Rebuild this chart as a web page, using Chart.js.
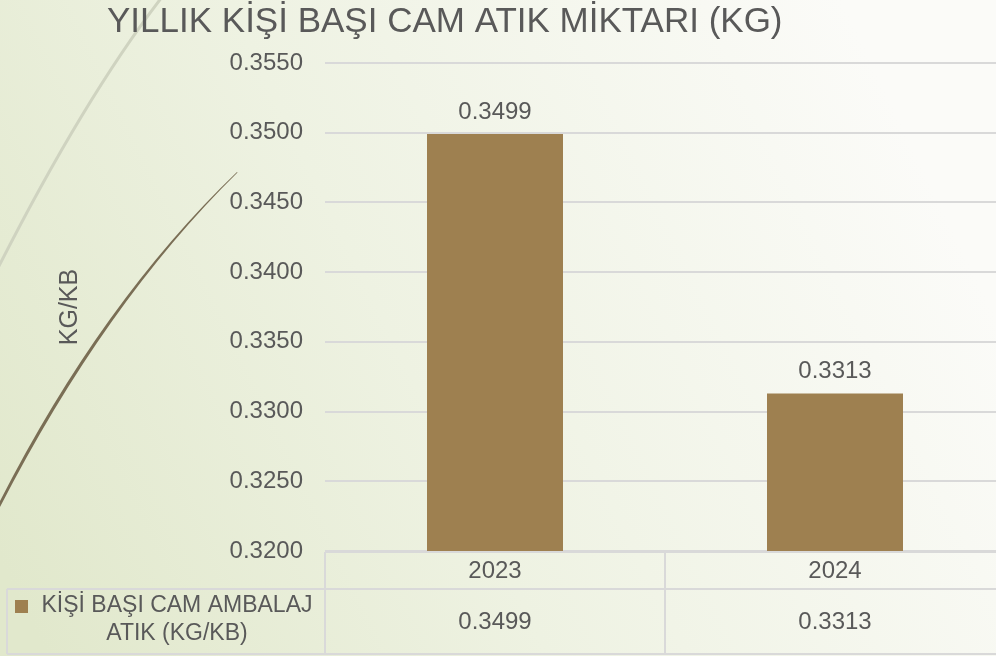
<!DOCTYPE html>
<html>
<head>
<meta charset="utf-8">
<script src="https://cdn.jsdelivr.net/npm/chart.js@4.4.0/dist/chart.umd.min.js"></script>
<style>
html,body{margin:0;padding:0;overflow:hidden;width:996px;height:656px;background:#f2f4ea}
#wrap{position:absolute;left:0;top:0;width:1005px;height:656px}
canvas{display:block}
</style>
</head>
<body>
<div id="wrap"><canvas id="c" width="1005" height="656"></canvas></div>
<script>
// ---- data ----
const chartTitle = 'YILLIK KİŞİ BAŞI CAM ATIK MİKTARI (KG)';
const yAxisTitle = 'KG/KB';
const categories = ['2023', '2024'];
const seriesName = 'KİŞİ BAŞI CAM AMBALAJ ATIK (KG/KB)';
const seriesValues = [0.3499, 0.3313];
const yTicks = [0.3200, 0.3250, 0.3300, 0.3350, 0.3400, 0.3450, 0.3500, 0.3550];

// ---- styles ----
const FONT = "'Liberation Sans', Arial, sans-serif";
const TEXT = '#595959';
const BAR = '#9e8050';
const LINE = '#d9d9d9';

const backgroundPlugin = {
  id: 'slideBackground',
  beforeDraw(chart) {
    const ctx = chart.ctx;
    ctx.save();
    const g = ctx.createLinearGradient(0, 560, 900, 120);
    g.addColorStop(0, '#e1e8cc');
    g.addColorStop(0.45, '#eef2e2');
    g.addColorStop(1, '#fbfbf8');
    ctx.fillStyle = g;
    ctx.fillRect(0, 0, chart.width, chart.height);
    // decorative light curve
    ctx.strokeStyle = '#cfd3c0';
    ctx.lineWidth = 3;
    ctx.beginPath();
    ctx.moveTo(162, -3);
    ctx.quadraticCurveTo(84, 98.5, -2, 268);
    ctx.stroke();
    // decorative dark curve
    ctx.fillStyle = '#7a6e55';
    ctx.beginPath();
    ctx.moveTo(237, 172);
    ctx.quadraticCurveTo(101.5, 301.5, -1, 503);
    ctx.lineTo(-1, 509);
    ctx.quadraticCurveTo(104.5, 303.5, 237.5, 172.5);
    ctx.closePath();
    ctx.fill();
    ctx.restore();
  }
};

const valueLabelPlugin = {
  id: 'valueLabels',
  afterDatasetsDraw(chart) {
    const ctx = chart.ctx;
    const meta = chart.getDatasetMeta(0);
    const vals = chart.data.datasets[0].data;
    ctx.save();
    ctx.font = '24px ' + FONT;
    ctx.fillStyle = TEXT;
    ctx.textAlign = 'center';
    ctx.textBaseline = 'alphabetic';
    meta.data.forEach((bar, i) => {
      ctx.fillText(vals[i].toFixed(4), bar.x, bar.y - 15);
    });
    ctx.restore();
  }
};

const dataTablePlugin = {
  id: 'dataTable',
  afterDraw(chart) {
    const ctx = chart.ctx;
    const xs = chart.scales.x;
    const ds = chart.data.datasets[0];
    const labels = chart.data.labels;
    const left = xs.left, right = xs.right;
    const colW = (right - left) / labels.length;
    const top = chart.chartArea.bottom + 1;
    const mid = top + 37;
    const bottom = mid + 65;
    const legLeft = 7;
    ctx.save();
    ctx.strokeStyle = LINE;
    ctx.lineWidth = 2;
    ctx.beginPath();
    ctx.moveTo(left, top); ctx.lineTo(right, top);
    ctx.moveTo(legLeft, mid); ctx.lineTo(right, mid);
    ctx.moveTo(legLeft, bottom); ctx.lineTo(right, bottom);
    ctx.moveTo(legLeft, mid); ctx.lineTo(legLeft, bottom);
    for (let i = 0; i <= labels.length; i++) {
      const x = left + colW * i;
      ctx.moveTo(x, top); ctx.lineTo(x, bottom);
    }
    ctx.stroke();

    ctx.font = '24px ' + FONT;
    ctx.fillStyle = TEXT;
    ctx.textAlign = 'center';
    ctx.textBaseline = 'middle';
    labels.forEach((lab, i) => {
      const cx = xs.getPixelForValue(i);
      ctx.fillText(lab, cx, (top + mid) / 2 + 1);
      ctx.fillText(ds.data[i].toFixed(4), cx, (mid + bottom) / 2 + 1);
    });

    // legend cell
    ctx.fillStyle = ds.backgroundColor;
    ctx.fillRect(15, 600, 13, 13);
    ctx.font = '23px ' + FONT;
    ctx.fillStyle = TEXT;
    const words = ds.label.split(' ');
    const lines = [];
    let cur = '';
    words.forEach(w => {
      const t = cur ? cur + ' ' + w : w;
      if (ctx.measureText(t).width > 285 && cur) { lines.push(cur); cur = w; }
      else cur = t;
    });
    if (cur) lines.push(cur);
    lines.forEach((ln, i) => ctx.fillText(ln, 177, 606 + i * 28));
    ctx.restore();
  }
};

new Chart(document.getElementById('c'), {
  type: 'bar',
  data: {
    labels: categories,
    datasets: [{
      label: seriesName,
      data: seriesValues,
      backgroundColor: BAR,
      borderWidth: 0,
      barPercentage: 0.5,
      categoryPercentage: 0.8
    }]
  },
  options: {
    responsive: false,
    animation: false,
    devicePixelRatio: 1,
    layout: { padding: { left: 107, right: 0, top: 0, bottom: 105 } },
    plugins: {
      legend: { display: false },
      tooltip: { enabled: false },
      title: {
        display: true,
        text: chartTitle,
        align: 'start',
        color: TEXT,
        font: { family: FONT, size: 35, weight: 'normal' },
        padding: { top: 1, bottom: 20 }
      }
    },
    scales: {
      x: {
        display: false,
        grid: { display: false }
      },
      y: {
        min: 0.32,
        max: 0.355,
        afterBuildTicks(scale) { scale.ticks = yTicks.map(v => ({ value: v })); },
        afterFit(scale) { scale.width = 218; },
        border: { display: false },
        grid: { color: LINE, lineWidth: 2, drawTicks: false },
        ticks: {
          padding: 22,
          color: TEXT,
          font: { family: FONT, size: 24 },
          callback: v => Number(v).toFixed(4)
        },
        title: {
          display: true,
          text: yAxisTitle,
          color: TEXT,
          font: { family: FONT, size: 25 },
          padding: { top: -52, bottom: 0 }
        }
      }
    }
  },
  plugins: [backgroundPlugin, valueLabelPlugin, dataTablePlugin]
});
</script>
</body>
</html>
